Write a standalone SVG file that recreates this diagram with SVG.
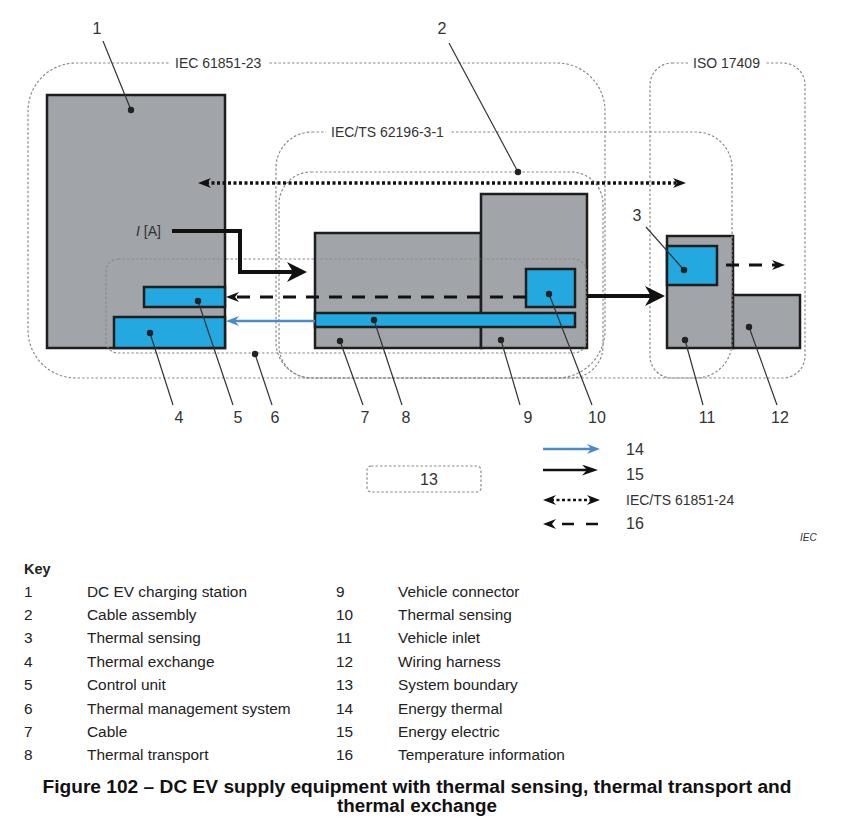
<svg xmlns="http://www.w3.org/2000/svg" width="852" height="819" viewBox="0 0 852 819">
<style>
.bg{fill:#ffffff}
.bnd{fill:none;stroke:#8a8a8a;stroke-width:1.2;stroke-dasharray:2.5 2}
.box{fill:#a1a4a8;stroke:#1e1e1e;stroke-width:2.5}
.blue{fill:#23a8e0;stroke:#1e1e1e;stroke-width:2.5}
.lead{fill:none;stroke:#333;stroke-width:1.2}
.dot{fill:#222}
.num{font-family:"Liberation Sans",Arial,sans-serif;font-size:16px;fill:#333;text-anchor:middle}
.std{font-family:"Liberation Sans",Arial,sans-serif;font-size:14px;fill:#333}
.key{font-family:"Liberation Sans",Arial,sans-serif;font-size:15.4px;fill:#222}
.cap{font-family:"Liberation Sans",Arial,sans-serif;font-size:18px;font-weight:bold;fill:#111;text-anchor:middle}
.thick{fill:none;stroke:#111;stroke-width:4}
.med{fill:none;stroke:#111;stroke-width:2.5}
.dash{fill:none;stroke:#111;stroke-width:3;stroke-dasharray:13 10}
.dots{fill:none;stroke:#111;stroke-width:3.5;stroke-dasharray:3 2.5}
.bluel{fill:none;stroke:#4a8bc8;stroke-width:2.5}
</style>
<defs>
<marker id="hb" viewBox="0 0 20 20" refX="8" refY="10" markerWidth="20" markerHeight="20" markerUnits="userSpaceOnUse" orient="auto"><path d="M0,0 L20,10 L0,20 L6,10 Z" fill="#111"/></marker>
<marker id="hs" viewBox="0 0 13 10" refX="5" refY="5" markerWidth="13" markerHeight="10" markerUnits="userSpaceOnUse" orient="auto-start-reverse"><path d="M0,0 L13,5 L0,10 L4,5 Z" fill="#111"/></marker>
<marker id="hm" viewBox="0 0 16 11" refX="6" refY="5.5" markerWidth="16" markerHeight="11" markerUnits="userSpaceOnUse" orient="auto"><path d="M0,0 L16,5.5 L0,11 L5,5.5 Z" fill="#111"/></marker>
<marker id="hblue" viewBox="0 0 13 10" refX="5" refY="5" markerWidth="13" markerHeight="10" markerUnits="userSpaceOnUse" orient="auto"><path d="M0,0 L13,5 L0,10 L4,5 Z" fill="#4a8bc8"/></marker>
</defs>
<rect class="bg" x="0" y="0" width="852" height="819"/>

<g id="nodes">
<g id="n1"><rect class="box" x="47" y="95" width="178" height="253"/></g>
<g id="n5"><rect class="blue" x="144" y="287" width="81" height="20"/></g>
<g id="n4"><rect class="blue" x="114" y="317" width="111" height="31"/></g>
<g id="n7"><rect class="box" x="315" y="233" width="166" height="115"/></g>
<g id="n9"><rect class="box" x="481" y="194" width="106" height="154"/></g>
<g id="n8"><rect class="blue" x="315" y="313" width="260" height="14"/></g>
<g id="n10"><rect class="blue" x="526" y="269" width="49" height="38"/></g>
<g id="n11"><rect class="box" x="667" y="236" width="66" height="112"/></g>
<g id="n12"><rect class="box" x="733" y="295" width="67" height="53"/></g>
<g id="n3"><rect class="blue" x="667" y="246" width="50" height="39"/></g>
</g>

<g id="boundaries">
<g id="b-iec61851-23"><rect class="bnd" x="28" y="63" width="577" height="315" rx="48" ry="48"/><rect class="bg" x="170" y="55" width="98" height="16"/><text class="std" x="175" y="68">IEC 61851-23</text></g>
<g id="b-iec62196"><rect class="bnd" x="276" y="132" width="456" height="246" rx="36" ry="36"/><rect class="bg" x="326" y="124" width="125" height="16"/><text class="std" x="331" y="137">IEC/TS 62196-3-1</text></g>
<g id="b-cable-assembly"><rect class="bnd" x="279" y="172" width="324" height="206" rx="32" ry="32"/></g>
<g id="b-iso17409"><rect class="bnd" x="650" y="63" width="155" height="315" rx="22" ry="22"/><rect class="bg" x="688" y="55" width="78" height="16"/><text class="std" x="693" y="68">ISO 17409</text></g>
<g id="b-tms"><rect class="bnd" x="106" y="259" width="480" height="94" rx="12" ry="12"/></g>
</g>

<g id="connectors">
<path class="thick" d="M172,231 H240 V272 H295" marker-end="url(#hb)"/>
<path class="thick" d="M587,296 H653" marker-end="url(#hb)"/>
<path class="dots" d="M206,183 H678" marker-start="url(#hs)" marker-end="url(#hs)"/>
<path class="dash" d="M526,297 H234" marker-end="url(#hs)"/>
<path class="bluel" d="M315,321 H234" marker-end="url(#hblue)"/>
<path class="dash" d="M726,265 H777" marker-end="url(#hs)"/>
</g>

<g id="ia-label"><text class="std" x="136" y="236"><tspan font-style="italic">I</tspan> [A]</text></g>

<g id="callouts">
<line class="lead" x1="103" y1="41" x2="131" y2="110"/><circle class="dot" cx="131" cy="110" r="3.2"/><text class="num" x="97" y="34">1</text>
<line class="lead" x1="449" y1="43" x2="518" y2="172"/><circle class="dot" cx="518" cy="172" r="3.2"/><text class="num" x="442" y="34">2</text>
<line class="lead" x1="646" y1="227" x2="684" y2="270"/><circle class="dot" cx="684" cy="270" r="3.2"/><text class="num" x="637" y="221">3</text>
<line class="lead" x1="150" y1="333" x2="173" y2="405"/><circle class="dot" cx="150" cy="333" r="3.2"/><text class="num" x="179" y="423">4</text>
<line class="lead" x1="198" y1="301" x2="233" y2="405"/><circle class="dot" cx="198" cy="301" r="3.2"/><text class="num" x="238" y="423">5</text>
<line class="lead" x1="255" y1="354" x2="272" y2="405"/><circle class="dot" cx="255" cy="354" r="3.2"/><text class="num" x="275" y="423">6</text>
<line class="lead" x1="340" y1="341" x2="363" y2="405"/><circle class="dot" cx="340" cy="341" r="3.2"/><text class="num" x="365" y="423">7</text>
<line class="lead" x1="374" y1="320" x2="402" y2="405"/><circle class="dot" cx="374" cy="320" r="3.2"/><text class="num" x="406" y="423">8</text>
<line class="lead" x1="501" y1="340" x2="520" y2="405"/><circle class="dot" cx="501" cy="340" r="3.2"/><text class="num" x="528" y="423">9</text>
<line class="lead" x1="549" y1="294" x2="592" y2="405"/><circle class="dot" cx="549" cy="294" r="3.2"/><text class="num" x="597" y="423">10</text>
<line class="lead" x1="685" y1="340" x2="703" y2="405"/><circle class="dot" cx="685" cy="340" r="3.2"/><text class="num" x="707" y="423">11</text>
<line class="lead" x1="749" y1="327" x2="777" y2="405"/><circle class="dot" cx="749" cy="327" r="3.2"/><text class="num" x="780" y="423">12</text>
</g>

<g id="legend">
<g id="l13"><rect class="bnd" x="367" y="466" width="114" height="26" rx="4" ry="4"/><text class="num" x="429" y="485">13</text></g>
<g id="l14"><path class="bluel" d="M543,449 H592" marker-end="url(#hblue)"/><text class="num" x="626" y="455" style="text-anchor:start">14</text></g>
<g id="l15"><path class="med" d="M543,470 H588" marker-end="url(#hm)"/><text class="num" x="626" y="480" style="text-anchor:start">15</text></g>
<g id="l61851-24"><path class="dots" d="M551,500 H592" style="stroke-width:2.5" marker-start="url(#hs)" marker-end="url(#hs)"/><text class="std" x="626" y="505">IEC/TS 61851-24</text></g>
<g id="l16"><path class="dash" d="M598,524 H551" style="stroke-dasharray:12 12;stroke-width:2.5" marker-end="url(#hs)"/><text class="num" x="626" y="529" style="text-anchor:start">16</text></g>
<text class="std" x="800" y="541" style="font-size:10px;font-style:italic">IEC</text>
</g>

<g id="key">
<text class="key" x="24" y="574" style="font-weight:bold;font-size:14.5px">Key</text>
<text class="key" x="24" y="597">1</text><text class="key" x="87" y="597">DC EV charging station</text>
<text class="key" x="24" y="620">2</text><text class="key" x="87" y="620">Cable assembly</text>
<text class="key" x="24" y="643">3</text><text class="key" x="87" y="643">Thermal sensing</text>
<text class="key" x="24" y="667">4</text><text class="key" x="87" y="667">Thermal exchange</text>
<text class="key" x="24" y="690">5</text><text class="key" x="87" y="690">Control unit</text>
<text class="key" x="24" y="714">6</text><text class="key" x="87" y="714">Thermal management system</text>
<text class="key" x="24" y="737">7</text><text class="key" x="87" y="737">Cable</text>
<text class="key" x="24" y="760">8</text><text class="key" x="87" y="760">Thermal transport</text>
<text class="key" x="336" y="597">9</text><text class="key" x="398" y="597">Vehicle connector</text>
<text class="key" x="336" y="620">10</text><text class="key" x="398" y="620">Thermal sensing</text>
<text class="key" x="336" y="643">11</text><text class="key" x="398" y="643">Vehicle inlet</text>
<text class="key" x="336" y="667">12</text><text class="key" x="398" y="667">Wiring harness</text>
<text class="key" x="336" y="690">13</text><text class="key" x="398" y="690">System boundary</text>
<text class="key" x="336" y="714">14</text><text class="key" x="398" y="714">Energy thermal</text>
<text class="key" x="336" y="737">15</text><text class="key" x="398" y="737">Energy electric</text>
<text class="key" x="336" y="760">16</text><text class="key" x="398" y="760">Temperature information</text>
<text class="cap" x="417" y="793" textLength="749" lengthAdjust="spacingAndGlyphs">Figure 102 – DC EV supply equipment with thermal sensing, thermal transport and</text>
<text class="cap" x="417" y="812" textLength="160" lengthAdjust="spacingAndGlyphs">thermal exchange</text>
</g>
</svg>
